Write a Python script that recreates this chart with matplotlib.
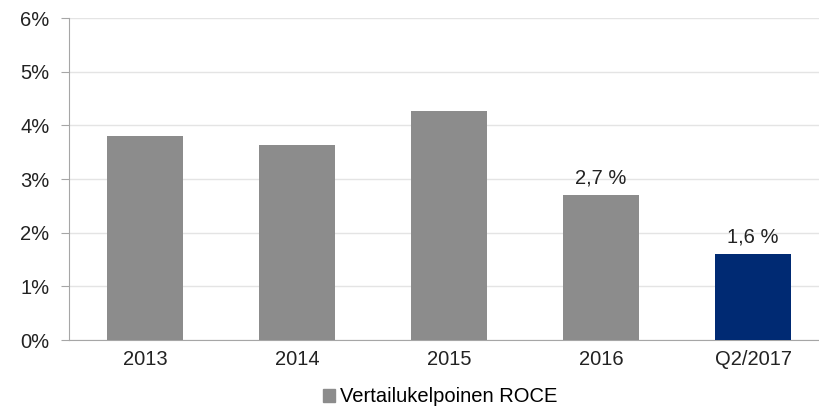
import matplotlib
matplotlib.use("Agg")
import matplotlib.pyplot as plt
from matplotlib.patches import Patch

categories = ["2013", "2014", "2015", "2016", "Q2/2017"]
values = [3.80, 3.63, 4.26, 2.70, 1.60]
colors = ["#8c8c8c", "#8c8c8c", "#8c8c8c", "#8c8c8c", "#002a73"]
labels = {3: "2,7 %", 4: "1,6 %"}
yticks = [0, 1, 2, 3, 4, 5, 6]
legend_label = "Vertailukelpoinen ROCE"

plt.rcParams['font.family'] = ['Liberation Sans', 'DejaVu Sans']

fig = plt.figure(figsize=(8.19, 4.09), dpi=100)
ax = fig.add_axes([69/819, (409-340)/409, 750/819, (340-18)/409])

x = list(range(len(categories)))
bars = ax.bar(x, values, width=0.5, color=colors, zorder=3)
for i, t in labels.items():
    ax.text(i, values[i] + 0.14, t, ha="center", va="bottom", fontsize=14.5, color="#222222")

ax.set_xlim(-0.5, 4.434)
ax.set_ylim(0, 6)
ax.set_yticks(yticks)
ax.set_yticklabels([f"{v}%" for v in yticks], fontsize=14.5, color="#222222")
ax.set_xticks(x)
ax.set_xticklabels(categories, fontsize=14.5, color="#222222")
ax.grid(axis="y", color="#e4e4e4", linewidth=1, zorder=0)
for s in ["top", "right"]:
    ax.spines[s].set_visible(False)
ax.spines["left"].set_color("#a6a6a6")
ax.spines["bottom"].set_color("#a6a6a6")
ax.tick_params(axis="y", length=6, color="#a6a6a6", pad=8)
ax.tick_params(axis="x", length=0, pad=7)

fig.legend(handles=[Patch(color="#8c8c8c", label=legend_label)],
           loc="center", bbox_to_anchor=(440/819, 1 - 397/409), frameon=False,
           fontsize=14.5, handlelength=0.6, handleheight=0.6, handletextpad=0.25)

fig.savefig("out.png", dpi=100)
